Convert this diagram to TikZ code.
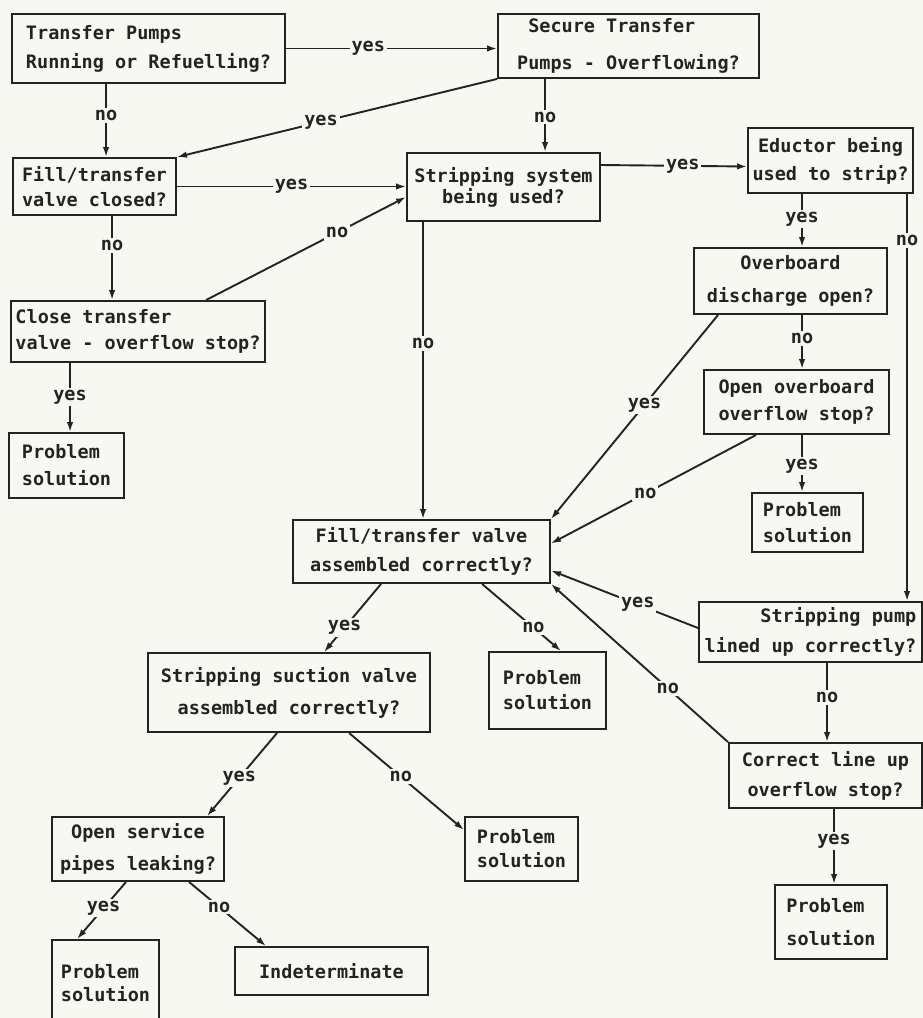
\documentclass[tikz,border=0pt]{standalone}
\usepackage{fontspec}
\newfontfamily\dfont{DejaVu Sans Mono}
\usetikzlibrary{arrows.meta,calc}
\definecolor{bg}{RGB}{248,248,243}
\definecolor{ink}{RGB}{35,35,35}
\newcommand\fsz[1]{\dfont\bfseries\fontsize{18.5}{#1}\selectfont}
\begin{document}
\begin{tikzpicture}[x=1pt,y=-1pt,
  box/.style={draw=ink, line width=1.9pt, inner sep=0pt, align=center, text=ink, font=\fsz{28}},
  conn/.style={draw=ink, line width=1.9pt, -{Latex[length=10pt,width=6.5pt]}},
  lab/.style={fill=bg, text=ink, inner sep=2pt, font=\fsz{22}}]
\useasboundingbox (0,0) rectangle (923,1018);
\clip (0,0) rectangle (923,1018);
\fill[bg] (0,0) rectangle (923,1018);

% boxes
\node[box, minimum width=273pt, minimum height=69pt, align=left, font=\fsz{29}] (tp) at (148.5,48.5) {Transfer Pumps\\Running or Refuelling?};
\node[box, minimum width=261pt, minimum height=64pt, align=left, font=\fsz{37}] (sec) at (628.5,46) {\ Secure Transfer\\Pumps - Overflowing?};
\node[box, minimum width=163pt, minimum height=57pt, font=\fsz{25}] (fc) at (94.5,186.5) {Fill/transfer\\valve closed?};
\node[box, minimum width=193pt, minimum height=68pt, font=\fsz{21}] (ss) at (503.5,187) {Stripping system\\being used?};
\node[box, minimum width=165pt, minimum height=65pt, font=\fsz{28}] (ed) at (830.5,160.5) {Eductor being\\used to strip?};
\node[box, minimum width=254pt, minimum height=61pt, align=left, font=\fsz{26}] (ct) at (138,331.5) {Close transfer\\valve - overflow stop?};
\node[box, minimum width=115pt, minimum height=65pt, align=left, font=\fsz{27}] (ps1) at (66.5,465.5) {Problem\\solution};
\node[box, minimum width=193pt, minimum height=66pt, font=\fsz{33}] (ob) at (790.5,281) {Overboard\\discharge open?};
\node[box, minimum width=185pt, minimum height=64pt, font=\fsz{27}] (oo) at (796.5,402) {Open overboard\\overflow stop?};
\node[box, minimum width=111pt, minimum height=59pt, align=left, font=\fsz{26}] (ps2) at (807.5,522.5) {Problem\\solution};
\node[box, minimum width=257pt, minimum height=63pt, font=\fsz{29}] (fa) at (421.5,551.5) {Fill/transfer valve\\assembled correctly?};
\node[box, minimum width=223pt, minimum height=60pt, align=right, font=\fsz{30}] (sp) at (810.5,632) {Stripping pump\\lined up correctly?};
\node[box, minimum width=117pt, minimum height=77pt, align=left, font=\fsz{25}] (ps3) at (547.5,690.5) {Problem\\solution};
\node[box, minimum width=282pt, minimum height=79pt, font=\fsz{32}] (su) at (289,692.5) {Stripping suction valve\\assembled correctly?};
\node[box, minimum width=193pt, minimum height=65pt, font=\fsz{30}] (cl) at (825.5,775.5) {Correct line up\\overflow stop?};
\node[box, minimum width=113pt, minimum height=64pt, align=left, font=\fsz{24}] (ps4) at (521.5,849) {Problem\\solution};
\node[box, minimum width=112pt, minimum height=74pt, align=left, font=\fsz{33}] (ps5) at (831,922) {Problem\\solution};
\node[box, minimum width=172pt, minimum height=64pt, font=\fsz{32}] (os) at (138,849) {Open service\\pipes leaking?};
\node[box, minimum width=107pt, minimum height=90pt, font=\fsz{23}] (ps6) at (105.5,985) {\raisebox{10pt}{\begin{tabular}{@{}l@{}}Problem\\solution\end{tabular}}};
\node[box, minimum width=193pt, minimum height=48pt] (ind) at (331.5,971) {Indeterminate};

% connectors
\draw[conn] (tp.east) -- node[lab,pos=0.39]{yes} (tp.east -| sec.west);
\draw[conn] ([xshift=95pt]tp.south west) -- node[lab,pos=0.43]{no} ([xshift=94pt]fc.north west);
\draw[conn] (sec.south west) -- node[lab,pos=0.55]{yes} (fc.north east);
\draw[conn] ([xshift=48pt]sec.south west) -- node[lab,pos=0.52]{no} ([xshift=139pt]ss.north west);
\draw[conn] (fc.east) -- node[lab,pos=0.5]{yes} (fc.east -| ss.west);
\draw[conn] ([xshift=196pt]ct.north west) -- node[lab,pos=0.655]{no} ([yshift=-10pt]ss.west);
\draw[conn] ([xshift=100pt]fc.south west) -- node[lab,pos=0.35]{no} ([xshift=102pt]ct.north west);
\draw[conn] ([xshift=60pt]ct.south west) -- node[lab,pos=0.49]{yes} ([xshift=62pt]ps1.north west);
\draw[conn] ([yshift=22pt]ss.east) -- node[lab,pos=0.56]{yes} ([yshift=-6pt]ed.west);
\draw[conn] ([xshift=55pt]ed.south west) -- node[lab,pos=0.47]{yes} ([xshift=109pt]ob.north west);
\draw[conn] ([xshift=160pt]ed.south west) -- node[lab,pos=0.115]{no} ([xshift=209pt]sp.north west);
\draw[conn] ([xshift=17pt]ss.south west) -- node[lab,pos=0.41]{no} ([xshift=131pt]fa.north west);
\draw[conn] ([xshift=109pt]ob.south west) -- node[lab,pos=0.43]{no} ([xshift=99pt]oo.north west);
\draw[conn] ([xshift=25pt]ob.south west) -- node[lab,pos=0.44]{yes} (fa.north east);
\draw[conn] ([xshift=53pt]oo.south west) -- node[lab,pos=0.54]{no} ([yshift=8pt]fa.east);
\draw[conn] ([xshift=99pt]oo.south west) -- node[lab,pos=0.54]{yes} ([xshift=51pt]ps2.north west);
\draw[conn] ([yshift=4pt]sp.west) -- node[lab,pos=0.41]{yes} ([yshift=-19pt]fa.east);
\draw[conn] (cl.north west) -- node[lab,pos=0.34]{no} (fa.south east);
\draw[conn] ([xshift=129pt]sp.south west) -- node[lab,pos=0.44]{no} ([xshift=99pt]cl.north west);
\draw[conn] ([xshift=106pt]cl.south west) -- node[lab,pos=0.43]{yes} ([xshift=60pt]ps5.north west);
\draw[conn] ([xshift=89pt]fa.south west) -- node[lab,pos=0.64]{yes} ([xshift=177pt]su.north west);
\draw[conn] ([xshift=190pt]fa.south west) -- node[lab,pos=0.65]{no} ([xshift=73pt]ps3.north west);
\draw[conn] ([xshift=130pt]su.south west) -- node[lab,pos=0.54]{yes} ([xshift=156pt]os.north west);
\draw[conn] ([xshift=202pt]su.south west) -- node[lab,pos=0.45]{no} ([yshift=19pt]ps4.west);
\draw[conn] ([xshift=75pt]os.south west) -- node[lab,pos=0.46]{yes} ([xshift=26pt]ps6.north west);
\draw[conn] ([xshift=138pt]os.south west) -- node[lab,pos=0.39]{no} ([xshift=32pt]ind.north west);
\end{tikzpicture}
\end{document}
